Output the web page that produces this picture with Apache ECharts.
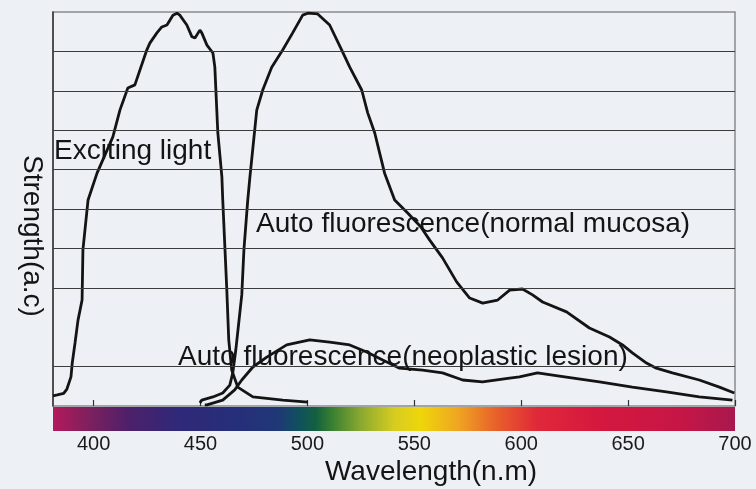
<!DOCTYPE html>
<html>
<head>
<meta charset="utf-8">
<script src="https://cdn.jsdelivr.net/npm/echarts@6/dist/echarts.min.js"></script>
<style>
  html, body { margin: 0; padding: 0; background: #edf0f4; }
  #chart { width: 756px; height: 489px; }
</style>
</head>
<body>
<div id="chart"></div>
<script>
// wavelength (nm) / strength (a.c, 0-100)
const excitingLight = [
  [381, 2.6], [383, 2.8], [386, 3.2], [387.5, 4.3], [389.4, 7.4], [390, 10.9],
  [391.3, 16], [392.7, 21.8], [394.6, 26.9], [395, 39.6], [397.4, 52.3], [401.6, 59.1],
  [409, 68.3], [412.3, 75.1], [416, 80.7], [419.3, 81.5], [424.9, 90.4], [426.3, 92.1],
  [429.6, 94.7], [431.9, 96.2], [434.3, 96.7], [437.1, 99.2], [439, 99.7], [440.3, 99.2],
  [443.6, 96.7], [446, 93.7], [447.4, 93.4], [449.7, 95.4], [450.6, 94.7], [453, 91.6],
  [455.8, 89.6], [456.7, 86], [458.1, 69.3], [460, 58.1], [460.4, 52.3], [462.3, 29.4],
  [463.2, 16.8], [464.6, 9.1], [467.4, 4.8], [474.5, 2.3], [488.5, 1.5], [500.2, 1.0]
];
const normalMucosa = [
  [449.7, 0.8], [450.6, 1.5], [455.8, 2.3], [460.4, 3.3], [463.7, 5.3], [465.1, 8.4],
  [466.5, 14.2], [469.3, 28.2], [470.3, 39.6], [472.1, 52.3], [473.1, 58.1], [476.3, 75.1],
  [479.1, 80.2], [483.3, 86], [488.5, 90.4], [493.1, 94.7], [497.8, 99.2], [500.2, 99.7],
  [504.8, 99.5], [510.4, 96.7], [516, 90.4], [519.8, 86], [525.4, 80.2], [528.2, 74.4],
  [531.5, 69.3], [533.8, 64.2], [536.1, 59.1], [540.8, 52.3], [546.9, 49], [553, 45.5],
  [557.2, 42.1], [563.2, 37.6], [569.8, 31.5], [575.9, 27.4], [582, 26.1], [589, 26.9],
  [594.6, 29.4], [600.6, 29.7], [605.3, 28.2], [610, 26.4], [621.2, 23.9], [631.9, 19.8],
  [641.3, 17.5], [647.4, 15.5], [652, 13.5], [658.6, 10.9], [663.2, 9.6], [670.7, 8.4],
  [683.3, 6.6], [692.7, 4.8], [699.7, 3.3]
];
const neoplasticLesion = [
  [452, 0.3], [453, 0.3], [460.4, 1.5], [466, 4.1], [469.3, 6.6], [474.5, 9.9],
  [481, 12.4], [490.3, 15.5], [501.1, 16.8], [510.4, 16.2], [519.8, 15.5], [527.7, 13.7],
  [535.2, 11.7], [543.1, 9.6], [553.9, 9.1], [563.2, 8.4], [572.6, 6.6], [581.9, 6.1],
  [594.6, 7.1], [599.2, 7.4], [607.6, 8.4], [617.9, 7.6], [636.6, 6.1], [652, 4.8],
  [667.9, 3.6], [683.3, 2.3], [698.8, 1.5]
];
const tickValues = [400, 450, 500, 550, 600, 650, 700];
const gridValues = [10, 30, 40, 50, 60, 70, 80, 90]; // the 20 line is missing in the original

const FONT = '"Liberation Sans", Arial, sans-serif';
const BIG = '28px ' + FONT;

// spectrum bar colours, left (381nm) to right (700nm)
const spectrum = [
  [0, '#b4195c'], [0.05, '#80205e'], [0.11, '#4e206a'], [0.18, '#302878'],
  [0.28, '#25307a'], [0.33, '#1f3876'], [0.36, '#10505e'], [0.385, '#136040'],
  [0.41, '#3a8032'], [0.45, '#88a830'], [0.5, '#d6cc22'], [0.54, '#eed60a'],
  [0.595, '#f0a422'], [0.65, '#e8602a'], [0.71, '#e0283a'], [0.8, '#d4183e'],
  [0.92, '#c61646'], [1, '#a8184e']
];

const chart = echarts.init(document.getElementById('chart'));
const curveStyle = { color: '#141414', width: 2.8 };

function curve(name, data) {
  return {
    name: name, type: 'line', data: data, z: 3,
    symbol: 'none', silent: true,
    lineStyle: curveStyle
  };
}

chart.setOption({
  backgroundColor: '#edf0f4',
  animation: false,
  grid: [
    { left: 53, right: 21, top: 12, bottom: 83, show: true, borderColor: '#8a8a8a', borderWidth: 1.5 },
    { left: 53, right: 21, top: 407, height: 24 }
  ],
  xAxis: [
    {
      gridIndex: 0, type: 'value', min: 381, max: 700,
      axisLine: { show: false }, axisLabel: { show: false }, splitLine: { show: false },
      axisTick: { show: true, inside: true, length: 6, customValues: tickValues,
        lineStyle: { color: '#333', width: 1.2 } }
    },
    {
      gridIndex: 1, type: 'value', min: 381, max: 700,
      axisLine: { show: false }, axisTick: { show: false }, splitLine: { show: false },
      axisLabel: { customValues: tickValues, fontSize: 20, color: '#1a1a1a', fontFamily: FONT, margin: 3 },
      name: 'Wavelength(n.m)', nameLocation: 'middle', nameGap: 27,
      nameTextStyle: { fontSize: 28, color: '#141414', fontFamily: FONT, padding: [0, 0, 0, 74] }
    }
  ],
  yAxis: [
    {
      gridIndex: 0, type: 'value', min: 0, max: 100,
      axisLine: { show: true, lineStyle: { color: '#333', width: 1.5 } },
      axisTick: { show: false }, axisLabel: { show: false }, splitLine: { show: false }
    },
    { gridIndex: 1, type: 'value', min: 0, max: 1, show: false }
  ],
  series: [
    {
      // horizontal grid lines
      type: 'line', data: [], z: 1, silent: true,
      markLine: {
        symbol: 'none', silent: true, animation: false,
        label: { show: false },
        lineStyle: { color: '#3c3c3c', width: 1.2, type: 'solid' },
        data: gridValues.map(v => ({ yAxis: v }))
      }
    },
    {
      // spectrum colour bar
      type: 'line', data: [], xAxisIndex: 1, yAxisIndex: 1, silent: true,
      markArea: {
        silent: true,
        itemStyle: {
          opacity: 1,
          color: new echarts.graphic.LinearGradient(0, 0, 1, 0,
            spectrum.map(s => ({ offset: s[0], color: s[1] })))
        },
        data: [[{ xAxis: 381, yAxis: 0 }, { xAxis: 700, yAxis: 1 }]]
      }
    },
    curve('Exciting light', excitingLight),
    curve('Auto fluorescence(normal mucosa)', normalMucosa),
    curve('Auto fluorescence(neoplastic lesion)', neoplasticLesion)
  ],
  graphic: [
    { type: 'text', x: 54, y: 151, z: 10,
      style: { text: 'Exciting light', font: BIG, fill: '#141414', verticalAlign: 'middle' } },
    { type: 'text', x: 256, y: 224, z: 10,
      style: { text: 'Auto fluorescence(normal mucosa)', font: BIG, fill: '#141414', verticalAlign: 'middle' } },
    { type: 'text', x: 178, y: 357, z: 10,
      style: { text: 'Auto fluorescence(neoplastic lesion)', font: BIG, fill: '#141414', verticalAlign: 'middle' } },
    { type: 'text', x: 32, y: 236, rotation: -Math.PI / 2, z: 10,
      style: { text: 'Strength(a.c)', font: BIG, fill: '#141414', align: 'center', verticalAlign: 'middle' } }
  ]
});
</script>
</body>
</html>
